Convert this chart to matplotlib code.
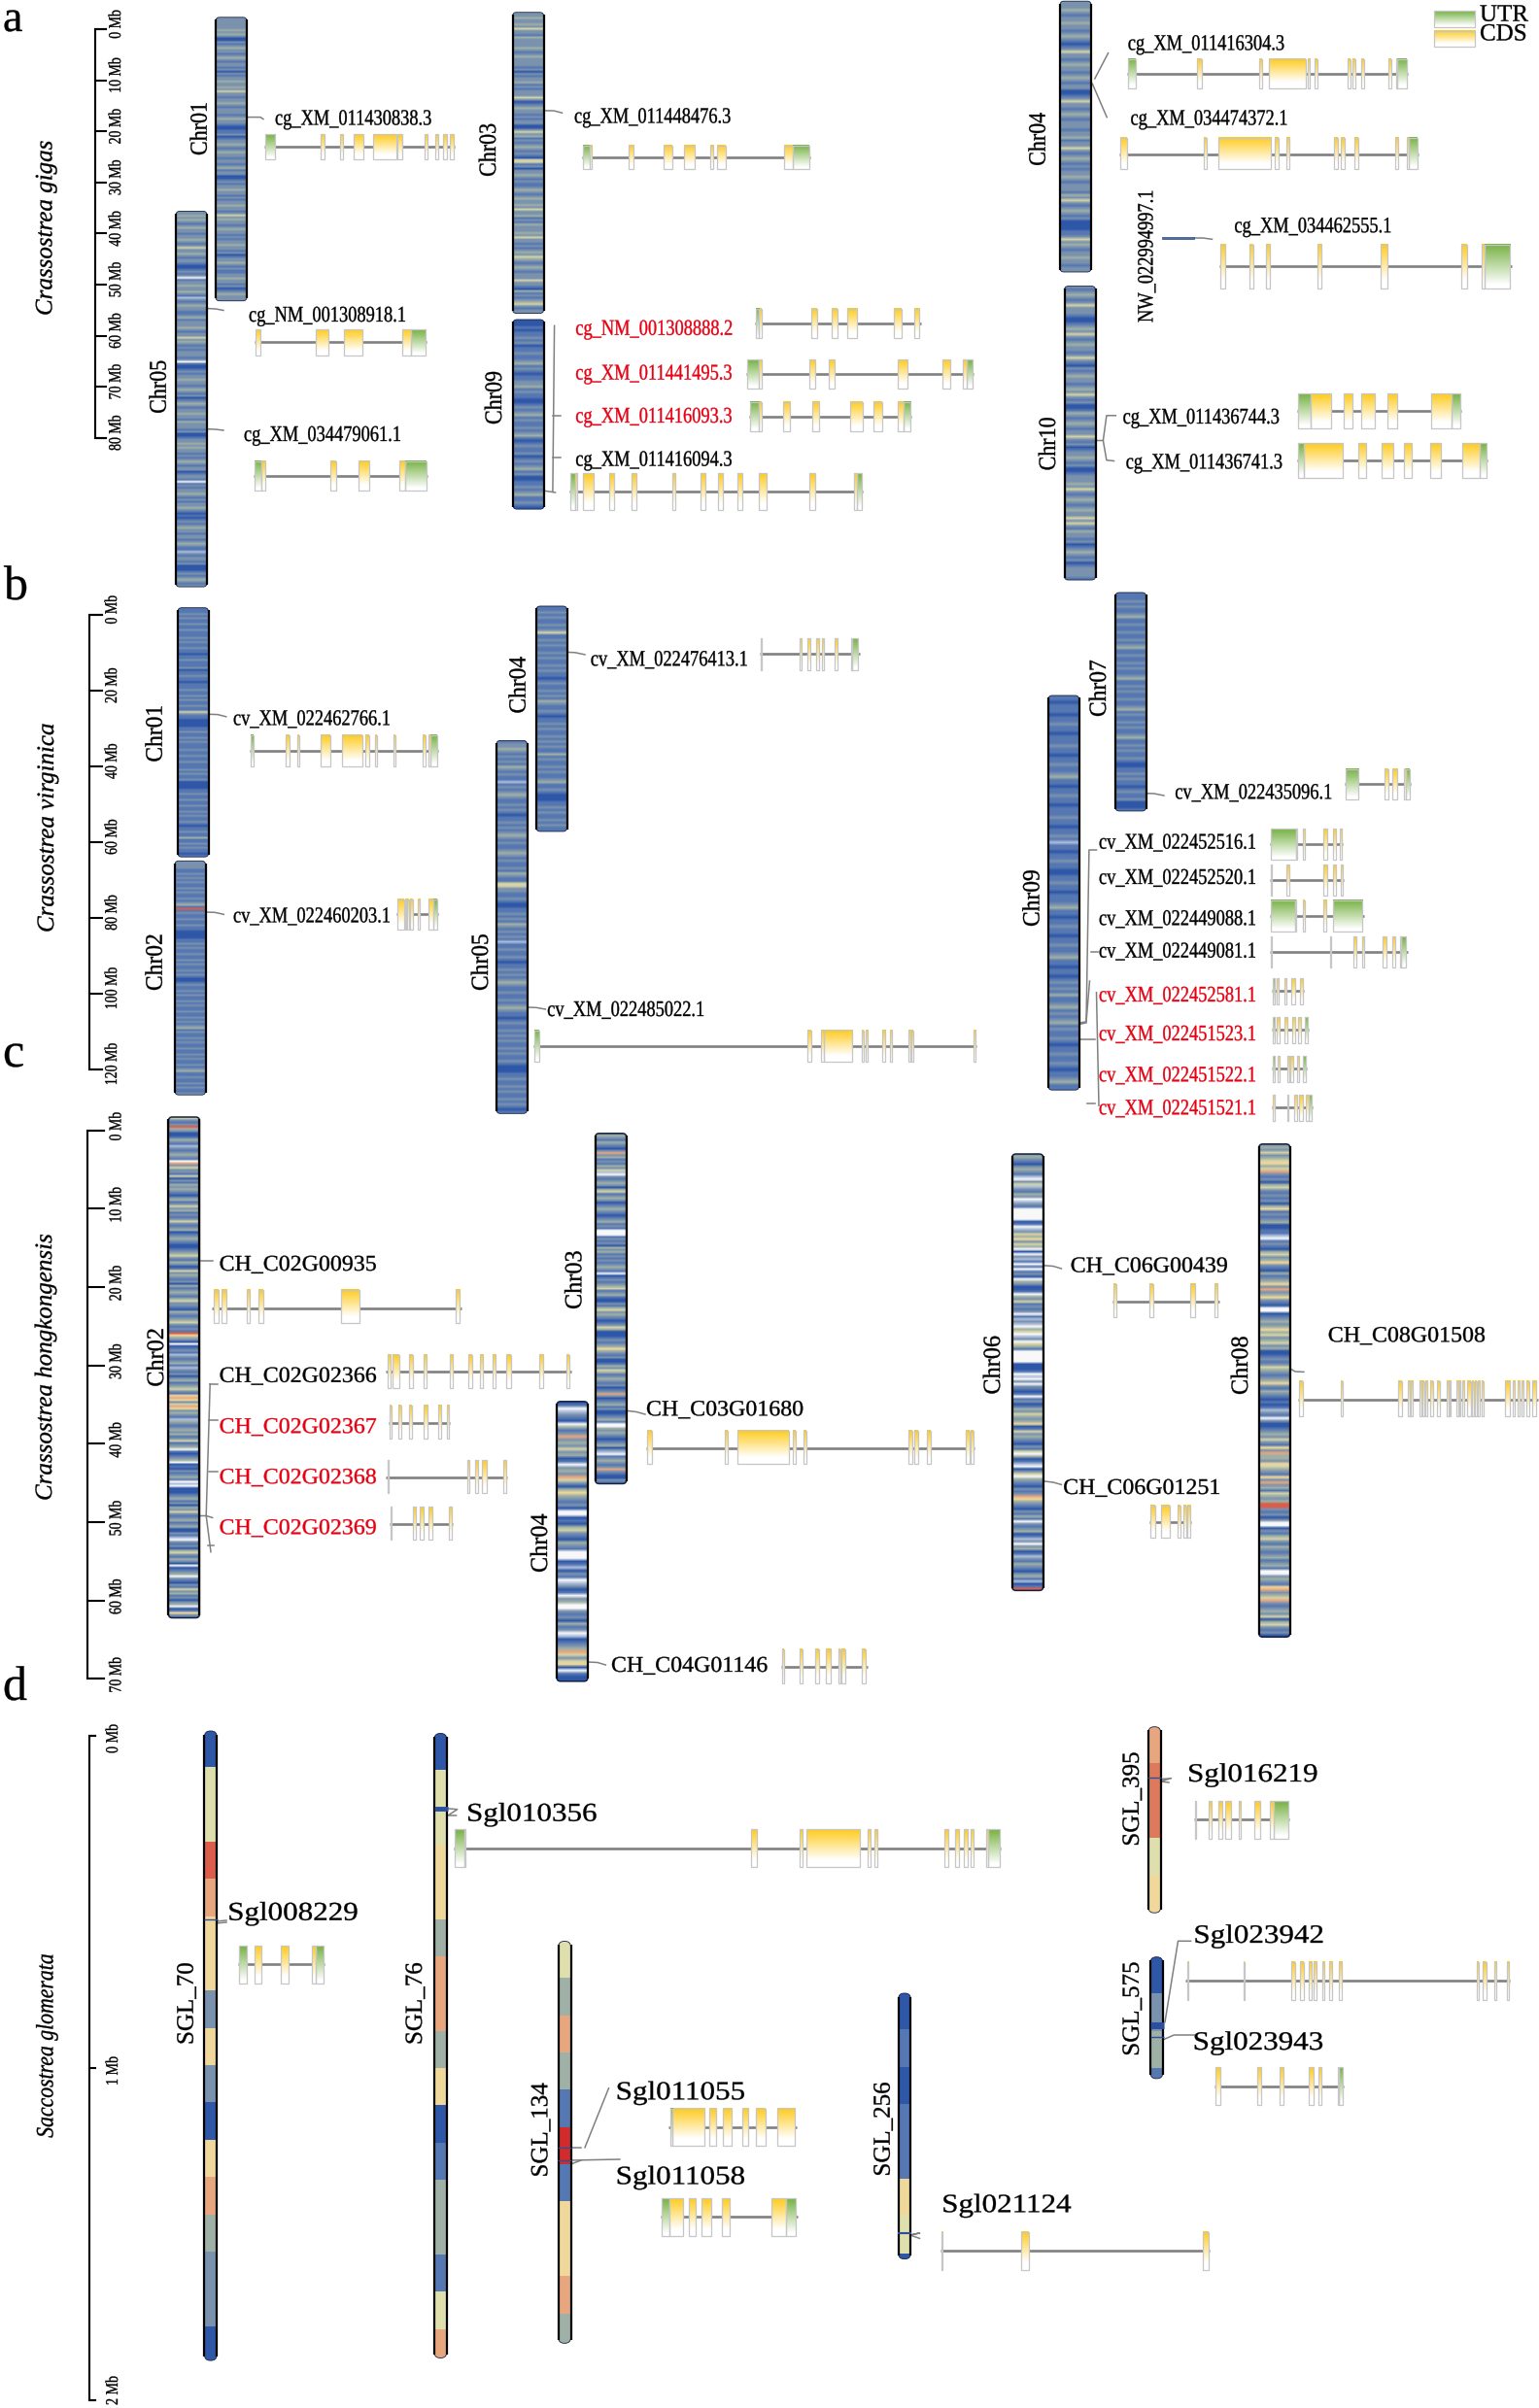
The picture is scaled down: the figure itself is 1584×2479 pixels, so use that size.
#!/usr/bin/env python3
"""Gene family locations on oyster chromosomes with exon structures (panels a-d)."""

import matplotlib
matplotlib.use("Agg")
import matplotlib.pyplot as plt
import numpy as np
from matplotlib.colors import to_rgb
from matplotlib.patches import FancyBboxPatch, Rectangle
from matplotlib.patheffects import AbstractPathEffect
from matplotlib.transforms import Affine2D

# ---- band colours, one letter per density class
BAND_COLORS = {
    "b": "#2f57a8", "m": "#5577b2", "s": "#7a92ae", "g": "#9fb0a6", "y": "#d4d3a6",
    "w": "#f8f8f8", "l": "#aebfdd", "o": "#e8a67f", "r": "#dc5d4b", "t": "#f0d89a",
    "c": "#dd7a5c", "R": "#d22b2b", "p": "#dfdfae",
}

# ---- panel a: Crassostrea gigas
a_species = "Crassostrea gigas"
a_ticks = [0, 10, 20, 30, 40, 50, 60, 70, 80]
a_chr_names = ["Chr01", "Chr05", "Chr03", "Chr09", "Chr04", "Chr10"]
a_chr_mb = [55.5, 73.5, 58.9, 37.1, 53.0, 57.5]
a_chr_bands = [
    "ssssssgsgsbbsmsgssmsgsmssmsbsmssgssgsyssmssgsmsssmsgssmbbmmsbmssgsmsgssmssmsgmssbbmsmssgssmsms"
    "sgssmsysgssmsgssmsmssgssmsbmssgsmsmmssgssmsbmsgsss",
    "ssgsgsmsgssmssgsmsyssgsmssmbbmsmswmssgssgsmlsmsgssmmsgmsssgsmssysgsmsmsssmswmbbmsmssgssmsgsms"
    "bmsgsmssgssmgsssmsbbmssgsgssmsmsgsmssbmssmwmsmssgsmsmssgsmbmbmsmsgssmssmsgsmmlsmssmsbbbmsmsgsms",
    "ssgssgsyssmgssssgsmsgssssmsbsmssgmsmsssysbmsgssmsmssbbsysgmsmsgsmsmbyymsbssgsmsmmsgsmsgssgsyssgmsm"
    "gsssgsyssmsmsgsygsmsgsmsssyssmbgmsmsgysmss",
    "bbbmbmmsmsbmmsmmsgmsmbmmssgmsmmbbmsmsgmsmmsmsgmbmsmmsbmsmsgmsbbmmsmsgmmsmb",
    "sssgsmssgssmsgsmbmsyssmsgssmsgsmssbbmsyssmsgsmsssmssgmssysmsgsmsmssgsmsssmgsysmsgsmsbbbbmmsysgsmssgssmss",
    "smsgsmsysssmbbmsgsysmsgssmsysmbsmsgssmsgsysmsbbmgsmsgsmssysmsbmssgsmsbbmsssgsysmsgsmsgssysysmgssmsbmsgsmsbmssssm",
]
a_genes = ["cg_XM_011430838.3", "cg_NM_001308918.1", "cg_XM_034479061.1", "cg_XM_011448476.3",
           "cg_NM_001308888.2", "cg_XM_011441495.3", "cg_XM_011416093.3", "cg_XM_011416094.3",
           "cg_XM_011416304.3", "cg_XM_034474372.1", "cg_XM_034462555.1", "cg_XM_011436744.3",
           "cg_XM_011436741.3"]
a_red = ["cg_NM_001308888.2", "cg_XM_011441495.3", "cg_XM_011416093.3"]
a_len = [587, 532, 538, 682, 497, 681, 487, 878, 835, 889, 867, 488, 564]
a_utr = [[(2, 34)], [(483, 529)], [(3, 23), (469, 533)], [(4, 22), (630, 679)], [(3, 13)],
         [(3, 39), (661, 677)], [(3, 30), (462, 484)], [(3, 18), (860, 875)],
         [(4, 26), (803, 831)], [(859, 884)], [(787, 863)], [(3, 40), (459, 485)],
         [(3, 20), (542, 561)]]
a_cds = [
    [(174, 187), (235, 242), (277, 307), (337, 407), (412, 425), (496, 503), (528, 536), (553, 563), (574, 584)],
    [(3, 17), (189, 227), (275, 332), (455, 483)],
    [(23, 37), (238, 256), (324, 358), (451, 469)],
    [(22, 29), (140, 155), (244, 269), (304, 337), (384, 393), (405, 431), (605, 630)],
    [(13, 21), (171, 188), (231, 248), (276, 307), (417, 440), (476, 493)],
    [(39, 47), (191, 207), (248, 266), (454, 483), (589, 612), (649, 661)],
    [(30, 38), (103, 124), (189, 211), (304, 341), (372, 398), (446, 462)],
    [(18, 24), (42, 72), (121, 135), (186, 200), (307, 318), (394, 408), (445, 459), (502, 516), (568, 589), (719, 734), (852, 860)],
    [(209, 222), (393, 400), (422, 530), (537, 544), (558, 566), (656, 664), (669, 677), (696, 704), (777, 785), (800, 803)],
    [(4, 22), (252, 260), (293, 451), (462, 473), (496, 505), (638, 649), (658, 669), (698, 709), (818, 828), (852, 859)],
    [(3, 18), (89, 100), (137, 150), (291, 303), (477, 499), (717, 734), (777, 787)],
    [(40, 102), (139, 165), (189, 230), (269, 297), (397, 459)],
    [(20, 134), (182, 204), (251, 283), (317, 340), (395, 427), (488, 542)],
]

# ---- panel b: Crassostrea virginica
b_species = "Crassostrea virginica"
b_ticks = [0, 20, 40, 60, 80, 100, 120]
b_chr_names = ["Chr01", "Chr02", "Chr04", "Chr05", "Chr09", "Chr07"]
b_chr_mb = [65.8, 61.8, 59.5, 98.5, 104.2, 57.7]
b_chr_bands = [
    "mmmsmsmmsmmsmmmsmsmmsmmbmmsmmmsbmmsmmbmmmsmmsmsmmsmmysmmbbbbmmsmmsmsmmmsmmsmmsm"
    "mmsmsmmsbbbbmmsmmsmmsmmsmsmmsmbmmsmmgmmsmsmmbm",
    "ssssmmsmsmsmmsmsmmsmsgmrmsmmsmmsmmbbbbmmsmsmmsmmsmsmmsmsmbbmsmmsmsmmsmsmmsmmsmsm"
    "sgmsmmsmsmmsmmsmsmmsmsgmmsmmsmsmms",
    "mmsmsmmsmsymmsmsmmsmsmmsmsmmbmsmmsmsmgsmmsmbmmsmsmmsmsmsmmgmsmmsmsmmsgmmsmbbbmmsmsmmsmsmm",
    "mssgsmsmsmgsmsmmlmsmsgsmmsmsmbmmsmsmsgsmsmmsgsmsmmsmgsmmyyssmmsmbbmmsmsmgsmsmsmlmmsmmsmbmmsmsmsgsmmsmm"
    "smsgsmmbmsmmsmsmsmmsmsmmsmbbbmmsmmsmsmmsmsmbm",
    "mmbmmmbmmsmmbmmmsmmbmmsmmsgmmbmmsmmbmmmsmmbmmsmlmmbmmsmmbbmmsmmbmmmsgmmbmmsmmbmmsmmsgmmbmmbmsmsmgmmsgmsm"
    "sgmsmmsmbmmsmmsmbmmsgmm",
    "mmmsmsmmsgmmsmmsmmsmsgmmsmmsmsmmsgmmsmsmmsmmsgmsmmsmsmmsgmmsmsmmsmbbmmsmsmmbmsmmsbbbm",
]
b_genes = ["cv_XM_022462766.1", "cv_XM_022460203.1", "cv_XM_022476413.1", "cv_XM_022485022.1",
           "cv_XM_022435096.1", "cv_XM_022452516.1", "cv_XM_022452520.1", "cv_XM_022449088.1",
           "cv_XM_022449081.1", "cv_XM_022452581.1", "cv_XM_022451523.1", "cv_XM_022451522.1",
           "cv_XM_022451521.1"]
b_red = ["cv_XM_022452581.1", "cv_XM_022451523.1", "cv_XM_022451522.1", "cv_XM_022451521.1"]
b_len = [583, 130, 286, 1277, 197, 219, 221, 279, 409, 97, 110, 106, 123]
b_utr = [[(5, 13), (558, 579)], [(114, 126)], [(266, 282)], [(2, 16)], [(3, 42), (183, 194)],
         [(4, 79)], [], [(3, 76), (188, 275)], [(389, 405)], [(4, 9)], [(4, 11), (98, 107)],
         [(4, 11), (94, 102)], [(112, 119)]]
b_cds = [
    [(111, 123), (147, 153), (221, 249), (285, 348), (358, 369), (389, 395), (444, 450), (535, 544), (554, 558)],
    [(4, 24), (27, 32), (33, 39), (42, 51), (66, 74), (99, 114)],
    [(1, 5), (114, 120), (136, 144), (162, 171), (179, 183), (214, 223), (261, 266)],
    [(791, 801), (830, 837), (837, 919), (948, 953), (957, 963), (1006, 1015), (1028, 1035), (1082, 1088), (1091, 1096), (1269, 1275)],
    [(121, 132), (143, 158), (178, 183)],
    [(79, 81), (100, 105), (161, 172), (189, 198), (210, 216)],
    [(3, 6), (51, 57), (160, 171), (188, 197), (211, 218)],
    [(76, 79), (98, 103), (158, 169)],
    [(3, 7), (178, 183), (249, 257), (274, 281), (336, 346), (364, 371), (386, 389)],
    [(9, 11), (16, 22), (39, 45), (60, 69), (86, 94)],
    [(16, 23), (40, 46), (61, 70), (80, 88)],
    [(19, 25), (46, 54), (55, 65), (75, 82)],
    [(3, 11), (46, 51), (68, 76), (82, 92), (101, 111)],
]

# ---- panel c: Crassostrea hongkongensis
c_species = "Crassostrea hongkongensis"
c_ticks = [0, 10, 20, 30, 40, 50, 60, 70]
c_chr_names = ["Chr02", "Chr03", "Chr04", "Chr06", "Chr08"]
c_chr_mb = [63.9, 44.7, 35.7, 55.7, 62.9]
c_chr_bands = [
    "ysmsrgsbbmgsmlsmsgsmwosyssmybsmgsgsmbsgmsysgmsmsysmsgbmsgsmbbmsgysmgsbmysgsmsbgmsgsmgyssmbg"
    "smsgysmsmrtgsbwbmsmlsmsgmlsmsbsgmsgysmtotsyotsgsmlgsmsgsgmsymsgwmbmsgwbmbsmsgmwlwbbbmsgmsbgs"
    "ysmsgmsgbbsmlwsmsbgysmgsbwbmsgwsmbsmysgmsbsgwbmtsm",
    "sgsmgsmbsosgmsmgsylwsmsgsbgymsgsbmsgsmbmsgmsmwwwmsmsbgsgmsmsmsgsmwbmsmsgymsgmbbsmgysgsmbmsyg"
    "bbbmsmsgtgsmsbbmgsygmsgsmsbmsosbmsgmsbbmsgmwwgsgsmbmsgbslwmsgsmsosmbbsm",
    "bmwlsmbwgmsosgsysgbmwsgsoysbgtgsmsbwwbmbgysmbgsmwwwbmlbsmwlsbmwsgwwsmsbgmswlbmsgoysytbwmbb",
    "sgsmbsgsmlwsylsmgswlsmwwwwwbmwlsygtsygwbwslmwmwmsbwgsbbmwgsymsmswmlslwgywlswygmwwwwwbbbmwlwsw"
    "smbmwmsbmgsygsgtbmysgsmbsmywgbmlwbsywgsmbsmsotgsmbsmgmwsmsgbmlswsgbmlsmgsmbsgmlbmr",
    "sgsysgytgyosmsbgysmsmsbgtmsmsgbbmmlwmsmbgysgtsmbgmsgtsosgtsmbwwbmsgsgtgysgysgbbmsmsygsmsgtsm"
    "gsmbmbmlsmwsbbmsgsysmtsoggstygsmtsosgmygsgrrsmsbswwbsmgysmgsmsgmsgmwwsgsmtosgyosmsgsybgysmsb",
]
c_genes = ["CH_C02G00935", "CH_C02G02366", "CH_C02G02367", "CH_C02G02368", "CH_C02G02369",
           "CH_C03G01680", "CH_C04G01146", "CH_C06G00439", "CH_C06G01251", "CH_C08G01508"]
c_red = ["CH_C02G02367", "CH_C02G02368", "CH_C02G02369"]
c_len = [628, 467, 155, 305, 160, 1013, 265, 296, 117, 662]
c_utr = [[] for _ in c_genes]
c_cds = [
    [(4, 16), (23, 37), (88, 96), (118, 129), (326, 371), (615, 625)],
    [(4, 12), (17, 34), (59, 68), (95, 104), (161, 169), (209, 218), (238, 246), (269, 278), (305, 316), (387, 397), (457, 464)],
    [(3, 7), (25, 32), (52, 59), (88, 99), (124, 132), (146, 152)],
    [(3, 6), (204, 211), (225, 233), (242, 254), (295, 302)],
    [(3, 6), (59, 67), (77, 87), (99, 109), (149, 158)],
    [(3, 18), (243, 251), (283, 442), (454, 462), (486, 495), (809, 821), (829, 840), (868, 878), (988, 998), (1002, 1010)],
    [(2, 7), (57, 65), (105, 117), (137, 153), (175, 181), (186, 198), (249, 261)],
    [(3, 11), (104, 113), (215, 229), (283, 292)],
    [(4, 16), (34, 56), (78, 86), (95, 103), (104, 113)],
    [(3, 13), (118, 123), (277, 286), (303, 309), (311, 317), (335, 341), (344, 349), (351, 357), (365, 372), (383, 390),
     (409, 415), (417, 422), (436, 442), (444, 447), (453, 459), (467, 476), (480, 485), (487, 492), (495, 502), (508, 513),
     (571, 585), (592, 599), (605, 611), (617, 623), (631, 637), (647, 658)],
]

# ---- panel d: Saccostrea glomerata
d_species = "Saccostrea glomerata"
d_ticks = [0, 1, 2]
d_chr_names = ["SGL_70", "SGL_76", "SGL_134", "SGL_256", "SGL_395", "SGL_575"]
d_chr_mb = [1.895, 1.88, 1.21, 0.80, 0.56, 0.366]
d_band_mb = 0.112
d_chr_bands = ["bpproTtstsbtogssb".replace("T", "t"), "bppttgoogtbmggmpo", "pgogmRmttog", "bmbmmtpb", "occpt", "bsgm"]
d_marks_mb = [[(0.566, 1.0)], [(0.228, 3.5)], [(0.62, 1.0), (0.66, 1.0)], [(0.722, 1.5)],
              [(0.154, 1.0)], [(0.206, 5.0), (0.24, 1.0)]]
d_genes = ["Sgl008229", "Sgl010356", "Sgl011055", "Sgl011058", "Sgl021124", "Sgl016219",
           "Sgl023942", "Sgl023943"]
d_len = [259, 1338, 312, 335, 660, 283, 962, 383]
d_utr = [[(3, 27), (234, 255)], [(3, 28), (1307, 1335)], [(3, 8)], [(3, 22), (308, 332)], [],
         [(235, 279)], [], [(370, 380)]]
d_cds = [
    [(50, 69), (128, 152), (222, 234)],
    [(28, 30), (727, 742), (847, 854), (864, 995), (1013, 1021), (1029, 1036), (1201, 1210), (1228, 1237), (1248, 1258), (1266, 1273), (1303, 1307)],
    [(8, 87), (99, 116), (131, 154), (179, 195), (214, 236), (264, 309)],
    [(22, 55), (71, 87), (100, 124), (152, 169), (273, 308)],
    [(3, 6), (198, 217), (642, 656)],
    [(3, 7), (44, 52), (71, 83), (93, 109), (134, 139), (180, 195), (225, 235)],
    [(4, 8), (172, 174), (314, 325), (340, 349), (365, 374), (380, 389), (404, 411), (424, 435), (453, 462), (864, 869), (881, 892), (914, 922), (953, 959)],
    [(3, 17), (126, 137), (194, 205), (279, 293), (307, 318), (365, 370)],
]

# ---- layout, reference pixels
# chromosome: x_left, y_top, label baseline x, label bottom y
a_chr_pos = [(222, 17.8, 212.7, 160), (181, 217.5, 170.7, 425.8), (527.6, 12.7, 510, 181.9),
             (528, 329, 516, 437), (1091, 1.2, 1075.7, 170.8), (1095.5, 294.6, 1086, 484.4)]
b_chr_pos = [(183, 625.7, 166.7, 784.6), (180, 886.3, 166.7, 1020), (552, 624, 540.7, 734.6),
             (511, 762.4, 502, 1020), (1079, 716, 1069.5, 954), (1148, 610, 1138, 738)]
c_chr_pos = [(173.4, 1150, 168, 1427.7), (612.7, 1166.8, 598.3, 1348), (573, 1442.8, 563, 1619),
             (1041.7, 1188, 1029, 1435.6), (1295.7, 1177.8, 1284, 1436)]
d_chr_pos = [(210.4, 1782, 198.7, 2105), (447, 1784.5, 434, 2105), (574.7, 1998.5, 563.3, 2241.5),
             (924.6, 2052, 915.7, 2240.6), (1181.9, 1777.7, 1171.9, 1900.7), (1184, 2014.7, 1171.9, 2116.7)]
# gene: x0, x scale, y mid, y top, y bottom, label x, label baseline
a_gene_pos = [(272, .3333, 150.6, 138.4, 164, 283, 128.5), (262, .3333, 352, 339, 366, 256, 331),
              (261, .3333, 490, 474.5, 505, 251, 454), (599, .3444, 161.7, 149.5, 174.4, 591, 126.5),
              (776.6, .3444, 333, 317.5, 348.3, 592.3, 344.8), (767.6, .3444, 384.7, 370, 400, 592.3, 390.7),
              (770.7, .3444, 429, 413.6, 444.4, 592.3, 435), (585.8, .3444, 506, 487, 525, 592.3, 479.6),
              (1159.7, .347, 75.5, 60.5, 90.5, 1160.8, 51.4), (1152, .347, 158.6, 142.3, 174.4, 1163.5, 128.5),
              (1255, .347, 273.6, 251.5, 297, 1270.4, 239.2), (1335, .347, 423, 405.3, 441, 1155.6, 436),
              (1335.3, .347, 473.7, 456.3, 491.9, 1158.7, 482.4)]
b_gene_pos = [(256.7, .3333, 772.8, 756.7, 789.2, 240, 746.4), (407.7, .3333, 941.3, 925.6, 957, 240, 949.5),
              (782.4, .357, 673.2, 657, 689.6, 607.8, 685.3), (549, .357, 1077.3, 1061, 1093.4, 563.2, 1046),
              (1383.5, .347, 807.3, 791.7, 823.3, 1209.3, 822.3), (1306.5, .347, 869.3, 853.3, 885.3, 1131, 873.7),
              (1306.8, .347, 906.3, 890.3, 922.3, 1131, 910), (1306.8, .347, 943, 927, 959.3, 1131, 952.3),
              (1306.8, .347, 980, 964, 996, 1131, 985.7), (1308.6, .347, 1020.3, 1007.3, 1033.7, 1131, 1031),
              (1308.6, .347, 1060.3, 1047.3, 1074, 1131, 1071), (1308.6, .347, 1100.3, 1087.3, 1113.7, 1131, 1113.3),
              (1308.6, .347, 1140.3, 1127.3, 1153.7, 1131, 1147.3)]
c_gene_pos = [(218.3, .408, 1346.6, 1328, 1362.3, 225.6, 1308), (397, .408, 1412.4, 1394.8, 1428.5, 225.6, 1422.8),
              (400, .408, 1464.9, 1446.5, 1480.5, 225.6, 1475.2), (397.4, .408, 1520.7, 1502.8, 1536.8, 225.6, 1527.2),
              (401, .408, 1568.6, 1551, 1584.6, 225.6, 1579.3), (665, .3333, 1490.6, 1472.6, 1506.7, 665, 1457.3),
              (804.3, .3333, 1716.4, 1698.4, 1732.5, 629, 1721), (1144.5, .3724, 1340, 1322, 1356.3, 1101.7, 1309.6),
              (1182.8, .3724, 1567.3, 1549.5, 1583, 1094.2, 1538), (1336.3, .3724, 1441.3, 1422, 1458.4, 1366.8, 1381.3)]
d_gene_pos = [(244.9, .3444, 2022, 2003, 2041.8, 234.2, 1976.7), (466.5, .421, 1903, 1883.4, 1922.3, 480, 1874.7),
              (688.4, .421, 2189.7, 2170.5, 2209, 633.7, 2161.3), (679.5, .421, 2282.3, 2263, 2301.6, 633.7, 2248.4),
              (967.5, .421, 2317, 2298, 2336.5, 969.2, 2277.3), (1229, .347, 1873.3, 1853.7, 1892.7, 1222, 1834),
              (1220.4, .347, 2039.3, 2020.3, 2059.3, 1228.4, 2000), (1250, .347, 2147.7, 2128.3, 2167.3, 1227.7, 2110)]

# connector lines from chromosomes to gene labels
LEADERS = [
    [(255, 120.6), (268, 120.6), (271, 122.6)], [(213, 317.5), (222, 318), (230, 319.5)],
    [(213, 441.7), (222, 442), (230, 443)], [(560.6, 113.9), (570, 114), (578.5, 116.2)],
    [(570.6, 335.3), (568.9, 506)], [(568.9, 428), (576.8, 428)], [(568.9, 471), (576.8, 471)],
    [(560.6, 505.3), (571.6, 507)], [(1126.8, 81), (1140.6, 54.6)], [(1124.3, 86.2), (1139.2, 120.6)],
    [(1229, 245), (1238, 245), (1247.5, 246.3)],
    [(1127.4, 453.5), (1135.4, 453.5), (1138.9, 427.8), (1148.3, 427.8)],
    [(1135.4, 453.5), (1138.9, 473.7), (1146.5, 474.5)],
    [(215, 735.3), (224, 735.6), (232.7, 737.8)], [(212, 939), (221, 939.3), (230.3, 941.3)],
    [(583.2, 671.4), (592, 671.8), (602, 673.9)], [(542.5, 1037), (552, 1037.3), (561.4, 1039)],
    [(1179.1, 816.7), (1188, 817), (1197.9, 819)],
    [(1110.4, 1053.3), (1118, 1051.7), (1120.9, 875), (1128.5, 875)], [(1118, 1051.7), (1121.5, 1010)],
    [(1110.4, 1054.5), (1118, 1053)],
    [(1110.4, 1070), (1126.8, 1070)], [(1128.5, 1021.7), (1131, 1138.3)], [(1123.3, 980), (1130.2, 980)],
    [(1119, 1136), (1126.8, 1136)],
    [(204.8, 1298), (218.7, 1298)], [(216.2, 1424.7), (212.2, 1560.5), (217, 1597.7)],
    [(216.2, 1424.7), (223.6, 1424.7)], [(215.4, 1462.2), (223.6, 1462.2)], [(215.4, 1514.6), (223.6, 1514.6)],
    [(204.8, 1560.5), (212.2, 1560.5), (218.7, 1562.4)], [(214.2, 1591), (220.3, 1591)],
    [(645, 1452.3), (655, 1453.5), (664, 1456)], [(605.7, 1711), (615, 1711.5), (623.3, 1714)],
    [(1074.5, 1302.8), (1084, 1303.5), (1092.4, 1306)], [(1074.5, 1524.9), (1084, 1526), (1092.4, 1528.4)],
    [(1327.7, 1408.8), (1333, 1412), (1341.9, 1412.4)],
    [(222, 1978), (233, 1977)], [(222, 1980), (233, 1979)],
    [(460, 1861.8), (470.7, 1862.7), (461, 1869), (469.5, 1869)],
    [(587.4, 2210.8), (597.9, 2210.8)], [(602, 2210.8), (626.5, 2149.8)],
    [(587.4, 2224), (637.9, 2223)], [(587.4, 2228), (598, 2224)],
    [(936.8, 2301), (946.5, 2298.9), (936.8, 2301), (946.5, 2304.4)],
    [(1194.4, 1831.7), (1205.5, 1830.7), (1194.4, 1834), (1203, 1835)],
    [(1199, 2081.7), (1212.5, 1998.3), (1225.6, 1998.3)],
    [(1196.8, 2100), (1208.3, 2095), (1230.9, 2095)],
]

LINE_GRAY = "#808080"
EDGE_GRAY = "#c6c6c6"
CDS_COLOR = "#ffcb1e"
UTR_COLOR = "#77b244"
SERIF = "Liberation Serif"


class Squash(AbstractPathEffect):
    """Condense or widen text along its own baseline, with a hairline stroke for weight."""

    def __init__(self, sx, center=False):
        super().__init__()
        self.sx = sx
        self.center = center

    def draw_path(self, renderer, gc, tpath, affine, rgbFace=None):
        ext = tpath.get_extents()
        cx = (ext.x0 + ext.x1) / 2 if self.center else 0
        shrink = Affine2D().translate(-cx, 0).scale(self.sx, 1).translate(cx, 0)
        gc0 = renderer.new_gc()
        gc0.copy_properties(gc)
        gc0.set_linewidth(0.25)
        gc0.set_foreground(rgbFace)
        renderer.draw_path(gc0, tpath, shrink + affine, rgbFace)
        gc0.restore()


fig = plt.figure(figsize=(15.84, 24.79), dpi=100)
ax = fig.add_axes([0, 0, 1, 1])
ax.set_xlim(0, 1584)
ax.set_ylim(2479, 0)
ax.set_autoscale_on(False)
ax.axis("off")


def label(x, y, s, size, sx=1.0, color="black", rot=0, ha="left", style="normal"):
    # size is in reference pixels, anchored on the baseline
    t = ax.text(x, y, s, fontsize=size * 0.72, color=color, rotation=rot, ha=ha, va="baseline",
                rotation_mode="anchor", family=SERIF, style=style, zorder=6)
    t.set_path_effects([Squash(sx, center=ha == "center")])
    return t


def draw_exon(x0, x1, top, bottom, color, fade=0.82):
    rgb = to_rgb(color)
    steps = np.linspace(0, 1, 40)
    alpha = np.clip(1 - steps / fade, 0, 1)
    grad = np.ones((40, 1, 3))
    for i in range(3):
        grad[:, 0, i] = rgb[i] * alpha + 1 - alpha
    ax.imshow(grad, extent=(x0, x1, bottom, top), aspect="auto", zorder=2, interpolation="bilinear")
    ax.add_patch(Rectangle((x0, top), x1 - x0, bottom - top, fill=False, ec=EDGE_GRAY, lw=0.9, zorder=3))


def draw_genes(genes, utrs, cdss, lengths, positions, red, size, sx):
    for name, utr, cds, length, pos in zip(genes, utrs, cdss, lengths, positions):
        x0, k, ymid, top, bottom, lab_x, lab_y = pos
        ax.plot([x0, x0 + length * k], [ymid, ymid], color=LINE_GRAY, lw=1.9, zorder=1, solid_capstyle="butt")
        for a, b in cds:
            draw_exon(x0 + a * k, x0 + b * k, top, bottom, CDS_COLOR)
        for a, b in utr:
            draw_exon(x0 + a * k, x0 + b * k, top, bottom, UTR_COLOR, fade=0.92)
        label(lab_x, lab_y, name, size, sx, color="#e60012" if name in red else "black")


def draw_chromosome(x, top, height, width, bands, unit, smooth, round_px, cap_lw):
    unit = height / len(bands) if unit is None else unit
    box = f"round,pad=0,rounding_size={round_px}"
    shape = FancyBboxPatch((x, top), width, height, boxstyle=box, fc="none", ec="none", zorder=4)
    ax.add_patch(shape)
    rows = np.array([to_rgb(BAND_COLORS[c]) for c in bands])[:, None, :]
    im = ax.imshow(rows, extent=(x, x + width, top + unit * len(bands), top), aspect="auto", zorder=3,
                   interpolation="bilinear" if smooth else "nearest")
    im.set_clip_path(shape)
    # caps are thin in the reference, the long sides are heavy and black
    ax.add_patch(FancyBboxPatch((x, top), width, height, boxstyle=box, fc="none", ec="#14213d", lw=cap_lw, zorder=5))
    for side in (x, x + width):
        ax.plot([side, side], [top + round_px * 0.6, top + height - round_px * 0.6], color="black", lw=1.6,
                zorder=5, solid_capstyle="butt")


def draw_ruler(x, tick_x, y0, per_unit, ticks, unit, base_x, offsets, size=18, sx=0.77):
    ys = [y0 + t * per_unit for t in ticks]
    ax.plot([tick_x, x, x, tick_x], [ys[0], ys[0], ys[-1], ys[-1]], color="black", lw=1.5, zorder=5,
            solid_joinstyle="miter")
    for t, y, off in zip(ticks, ys, offsets):
        ax.plot([x, tick_x], [y, y], color="black", lw=1.5, zorder=5)
        label(base_x, y + off, f"{t} {unit}", size, sx, rot=90, ha="center")


def draw_panel_chromosomes(names, mbs, bands, positions, per_mb, width, sx, unit_mb=None, smooth=True,
                           round_px=4, cap_lw=0.6):
    for name, mb, code, pos in zip(names, mbs, bands, positions):
        x, top, lab_x, lab_y = pos
        unit = None if unit_mb is None else unit_mb * per_mb
        draw_chromosome(x, top, mb * per_mb, width, code, unit, smooth, round_px, cap_lw)
        label(lab_x, lab_y, name, 25, sx, rot=90)


# panel a
a_per_mb = 5.26
draw_ruler(98.3, 109, 30, a_per_mb, a_ticks, "Mb", 124, [-5] * len(a_ticks))
draw_panel_chromosomes(a_chr_names, a_chr_mb, a_chr_bands, a_chr_pos, a_per_mb, 32, 0.88)
draw_genes(a_genes, a_utr, a_cds, a_len, a_gene_pos, a_red, 23, 0.8)
label(53.3, 325, a_species, 25, rot=90, style="italic")
label(3, 32, "a", 46)
# unplaced scaffold drawn as a sliver
ax.add_patch(Rectangle((1196, 244), 33, 2, fc="#4a6fa8", ec="#334a70", lw=0.5, zorder=3))
label(1186.4, 332, "NW_022994997.1", 23, 0.8, rot=90)

# legend
draw_exon(1475.5, 1517.8, 11, 27.7, UTR_COLOR, fade=0.92)
draw_exon(1475.5, 1517.8, 31.6, 48.2, CDS_COLOR)
label(1523, 21.7, "UTR", 25)
label(1523, 41.5, "CDS", 25)

# panel b
b_per_mb = 3.898
draw_ruler(91.7, 105, 632.8, b_per_mb, b_ticks, "Mb", 120, [-5] * len(b_ticks))
draw_panel_chromosomes(b_chr_names, b_chr_mb, b_chr_bands, b_chr_pos, b_per_mb, 31.5, 0.94)
draw_genes(b_genes, b_utr, b_cds, b_len, b_gene_pos, b_red, 23, 0.8)
label(55, 960, b_species, 25, rot=90, style="italic")
label(4, 617, "b", 50)

# panel c
c_per_mb = 8.068
draw_ruler(89.8, 107, 1163.7, c_per_mb, c_ticks, "Mb", 124.4, [-4] * len(c_ticks))
draw_panel_chromosomes(c_chr_names, c_chr_mb, c_chr_bands, c_chr_pos, c_per_mb, 32, 0.97, cap_lw=1.1)
draw_genes(c_genes, c_utr, c_cds, c_len, c_gene_pos, c_red, 23, 1.04)
label(53, 1545, c_species, 25, rot=90, style="italic")
label(3, 1098, "c", 50)

# panel d
d_per_mb = 342
draw_ruler(91.6, 98, 1787, d_per_mb, d_ticks, "Mb", 121, [3, 3, -10], sx=0.78)
draw_panel_chromosomes(d_chr_names, d_chr_mb, d_chr_bands, d_chr_pos, d_per_mb, 12.8, 1.0,
                       unit_mb=d_band_mb, smooth=False, round_px=6)
for pos, marks in zip(d_chr_pos, d_marks_mb):
    for mb, thick in marks:
        y = pos[1] + mb * d_per_mb
        ax.plot([pos[0] - 0.5, pos[0] + 13.5], [y, y], color="#2b4e9e", lw=thick, zorder=5.5, solid_capstyle="butt")
draw_genes(d_genes, d_utr, d_cds, d_len, d_gene_pos, [], 27, 1.15)
label(54.4, 2200.8, d_species, 25, sx=0.87, rot=90, style="italic")
label(3, 1750, "d", 50)

for path in LEADERS:
    xs, ys = zip(*path)
    ax.plot(xs, ys, color=LINE_GRAY, lw=1.1, zorder=2.5)

fig.savefig("out.png", dpi=100)
